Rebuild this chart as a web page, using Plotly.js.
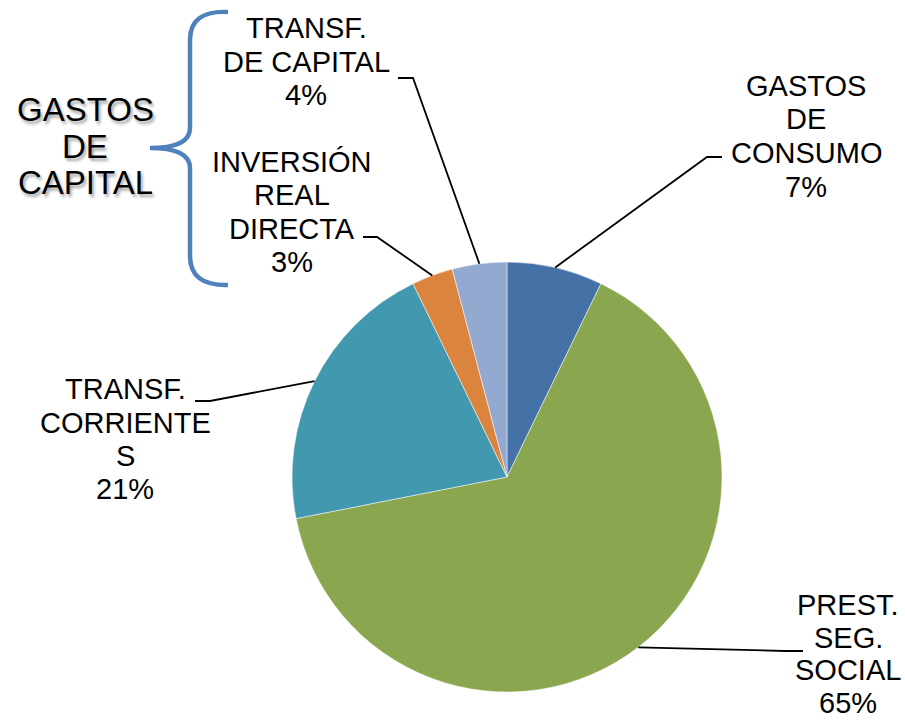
<!DOCTYPE html>
<html>
<head>
<meta charset="utf-8">
<script src="https://cdn.plot.ly/plotly-3.0.1.min.js"></script>
<style>
  body { margin: 0; background: #fff; }
  #chart { width: 905px; height: 724px; }
</style>
</head>
<body>
<div id="chart"></div>
<script>
// Pie: distribucion del gasto
const categories = [
    "GASTOS<br>DE<br>CONSUMO",
    "PREST.<br>SEG.<br>SOCIAL",
    "TRANSF.<br>CORRIENTE<br>S",
    "INVERSIÓN<br>REAL<br>DIRECTA",
    "TRANSF.<br>DE CAPITAL"
];
const values = [7.2, 64.7, 20.9, 3.1, 4.1];
const colors = ["#4472A7", "#8AA64F", "#4298AF", "#DB843D", "#93A9CF"];

// label blocks: centre x, first line y, elbow and end of leader line (px)
const labelX = [806, 848, 125, 292, 306];
const labelTop = [86, 605, 389, 162, 28];
const labelGap = [33.5, 32.5, 33.5, 33.5, 33.5];
const elbow = [[707, 157], [785, 651], [210, 401], [377, 237], [413, 78]];
const leaderEnd = [[722, 157], [803, 651], [195, 401], [363, 237], [398, 78]];

const groupTitle = ["GASTOS", "DE", "CAPITAL"];

const W = 905, H = 724;
const cx = 507, cy = 477, R = 215;
const fx = x => x / W;
const fy = y => 1 - y / H;

const total = values.reduce((a, b) => a + b, 0);
const font = { family: "Liberation Sans, Arial, sans-serif", size: 29, color: "#000" };

const annotations = [];
const shapes = [];
let cum = 0;
values.forEach((v, i) => {
    const pct = Math.round(v / total * 100) + "%";
    const lines = categories[i].split("<br>").concat([pct]);
    lines.forEach((t, k) => {
        annotations.push({
            text: t, x: fx(labelX[i]), y: fy(labelTop[i] + k * labelGap[i]),
            xref: "paper", yref: "paper", xanchor: "center", yanchor: "middle",
            showarrow: false, borderpad: 0, font: font
        });
    });

    const mid = (cum + v / 2) / total * 2 * Math.PI;
    cum += v;
    const sx = cx + R * Math.sin(mid), sy = cy - R * Math.cos(mid);
    shapes.push({
        type: "path", xref: "paper", yref: "paper",
        path: `M ${fx(sx)},${fy(sy)} L ${fx(elbow[i][0])},${fy(elbow[i][1])} L ${fx(leaderEnd[i][0])},${fy(leaderEnd[i][1])}`,
        line: { color: "#000", width: 1.8 }
    });
});

groupTitle.forEach((t, k) => {
    annotations.push({
        text: t, x: fx(85), y: fy(109.5 + k * 36.5),
        xref: "paper", yref: "paper", xanchor: "center", yanchor: "middle",
        showarrow: false,
        font: { family: "Liberation Sans, Arial, sans-serif", size: 33, color: "#000",
                shadow: "2px 3px 3px rgba(0,0,0,0.35)" }
    });
});

// curly brace
const bracePts = [
    ["M", 228, 12], ["Q", 190, 10, 190, 40], ["L", 190, 128], ["Q", 190, 148, 150, 148],
    ["Q", 190, 148, 190, 168], ["L", 190, 256], ["Q", 190, 286, 228, 285]
];
const bracePath = bracePts.map(p => {
    const c = [];
    for (let j = 1; j < p.length; j += 2) c.push(fx(p[j]) + "," + fy(p[j + 1]));
    return p[0] + " " + c.join(" ");
}).join(" ");
shapes.push({
    type: "path", xref: "paper", yref: "paper", path: bracePath,
    line: { color: "#4F81BD", width: 4.5 }
});

const trace = {
    type: "pie",
    labels: categories,
    values: values,
    sort: false,
    direction: "clockwise",
    rotation: 0,
    textinfo: "none",
    hoverinfo: "label+percent",
    marker: { colors: colors, line: { color: "#fff", width: 0.5 } },
    domain: { x: [fx(cx - R), fx(cx + R)], y: [fy(cy + R), fy(cy - R)] }
};

const layout = {
    width: W,
    height: H,
    margin: { t: 0, l: 0, r: 0, b: 0 },
    showlegend: false,
    paper_bgcolor: "#fff",
    annotations: annotations,
    shapes: shapes
};

Plotly.newPlot("chart", [trace], layout, { displayModeBar: false });
</script>
</body>
</html>
